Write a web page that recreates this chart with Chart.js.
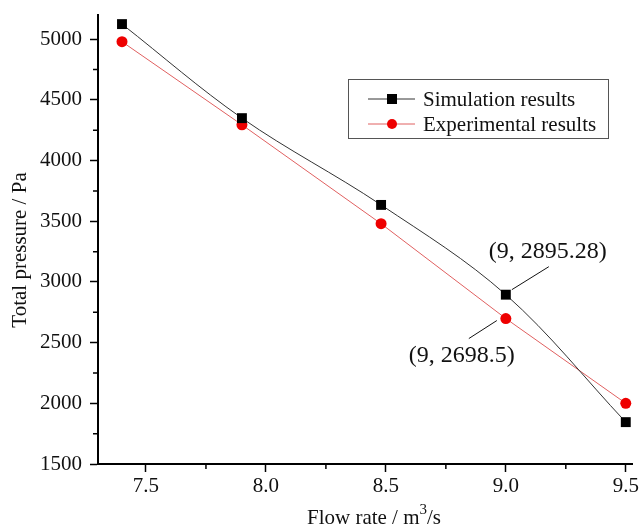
<!DOCTYPE html>
<html>
<head>
    <script src="https://cdn.jsdelivr.net/npm/chart.js@4.4.1/dist/chart.umd.min.js"></script>
    <style>
        body { margin: 0; background: #ffffff; }
        #wrap { width: 641px; height: 527px; position: relative; }
    </style>
</head>
<body>
    <div id="wrap"><canvas id="pressure"></canvas></div>
    <script>
        // values
        const flowRate = [7.4, 7.9, 8.48, 9.0, 9.5];
        const simulated = [5125, 4350, 3635, 2895.28, 1845];
        const experimental = [4980, 4295, 3480, 2698.5, 2000];
        const xTicks = [7.5, 8.0, 8.5, 9.0, 9.5];
        const yTicks = [1500, 2000, 2500, 3000, 3500, 4000, 4500, 5000];
        const callouts = [
            { ds: 0, idx: 3, text: '(9, 2895.28)' },
            { ds: 1, idx: 3, text: '(9, 2698.5)' }
        ];

        const serif = '"Liberation Serif", "DejaVu Serif", serif';

        function pts(ys) {
            return flowRate.map((x, i) => ({ x: x, y: ys[i] }));
        }

        // short minor ticks halfway between the major ones
        const minorTicks = {
            id: 'minorTicks',
            afterDraw(chart) {
                const c = chart.ctx, xs = chart.scales.x, ys = chart.scales.y;
                c.save();
                c.strokeStyle = '#000';
                c.lineWidth = 1.5;
                c.beginPath();
                for (let i = 0; i < yTicks.length - 1; i++) {
                    const py = ys.getPixelForValue((yTicks[i] + yTicks[i + 1]) / 2);
                    c.moveTo(xs.left - 5, py); c.lineTo(xs.left, py);
                }
                for (let i = 0; i < xTicks.length - 1; i++) {
                    const px = xs.getPixelForValue((xTicks[i] + xTicks[i + 1]) / 2);
                    c.moveTo(px, ys.bottom); c.lineTo(px, ys.bottom + 5);
                }
                c.stroke();
                c.restore();
            }
        };

        // axis titles (x one has a raised 3)
        const axisTitles = {
            id: 'axisTitles',
            afterDraw(chart) {
                const c = chart.ctx;
                c.save();
                c.fillStyle = '#111';
                c.font = '21px ' + serif;
                c.textBaseline = 'alphabetic';
                const a = 'Flow rate / m', b = '/s';
                const wa = c.measureText(a).width, wb = c.measureText(b).width;
                c.font = '15px ' + serif;
                const w3 = c.measureText('3').width;
                let x0 = 374 - (wa + w3 + wb) / 2;
                const base = 524;
                c.font = '21px ' + serif;
                c.fillText(a, x0, base);
                c.font = '15px ' + serif;
                c.fillText('3', x0 + wa, base - 10);
                c.font = '21px ' + serif;
                c.fillText(b, x0 + wa + w3, base);

                c.translate(20, 250);
                c.rotate(-Math.PI / 2);
                c.textAlign = 'center';
                c.textBaseline = 'middle';
                c.fillText('Total pressure / Pa', 0, 0);
                c.restore();
            }
        };

        // boxed legend inside the plot
        const boxLegend = {
            id: 'boxLegend',
            afterDraw(chart) {
                const c = chart.ctx;
                const bx = 348, by = 79, bw = 260, bh = 59;
                c.save();
                c.strokeStyle = '#555';
                c.lineWidth = 1;
                c.strokeRect(bx + 0.5, by + 0.5, bw, bh);
                c.font = '21px ' + serif;
                c.textBaseline = 'middle';
                chart.data.datasets.forEach((ds, i) => {
                    const cy = by + 20 + i * 25;
                    c.strokeStyle = ds.borderColor;
                    c.lineWidth = 1;
                    c.beginPath(); c.moveTo(368, cy); c.lineTo(415, cy); c.stroke();
                    c.fillStyle = ds.pointBackgroundColor;
                    if (ds.pointStyle === 'rect') {
                        c.fillRect(387, cy - 5, 10, 10);
                    } else {
                        c.beginPath(); c.arc(392, cy, 5, 0, Math.PI * 2); c.fill();
                    }
                    c.fillStyle = '#111';
                    c.fillText(ds.label, 423, cy + 1);
                });
                c.restore();
            }
        };

        // value callouts with leader lines
        const calloutPlugin = {
            id: 'callouts',
            afterDraw(chart) {
                const c = chart.ctx;
                c.save();
                c.font = '24px ' + serif;
                c.textAlign = 'center';
                c.textBaseline = 'middle';
                c.strokeStyle = '#111';
                c.fillStyle = '#111';
                c.lineWidth = 1;
                callouts.forEach(co => {
                    const p = chart.getDatasetMeta(co.ds).data[co.idx];
                    c.beginPath();
                    if (co.ds === 0) {
                        c.moveTo(p.x + 6, p.y - 5); c.lineTo(p.x + 43, p.y - 28);
                        c.stroke();
                        c.fillText(co.text, p.x + 42, p.y - 43);
                    } else {
                        c.moveTo(p.x - 9, p.y + 2); c.lineTo(p.x - 37, p.y + 20);
                        c.stroke();
                        c.fillText(co.text, p.x - 44, p.y + 37);
                    }
                });
                c.restore();
            }
        };

        new Chart(document.getElementById('pressure'), {
            type: 'line',
            data: {
                datasets: [{
                    label: 'Simulation results',
                    data: pts(simulated),
                    borderColor: '#333333',
                    borderWidth: 1,
                    pointStyle: 'rect',
                    pointRadius: 7,
                    pointBackgroundColor: '#000000',
                    pointBorderWidth: 0,
                    tension: 0.35
                }, {
                    label: 'Experimental results',
                    data: pts(experimental),
                    borderColor: '#e06060',
                    borderWidth: 1,
                    pointStyle: 'circle',
                    pointRadius: 5.5,
                    pointBackgroundColor: '#ee0000',
                    pointBorderWidth: 0,
                    tension: 0
                }]
            },
            options: {
                responsive: true,
                maintainAspectRatio: false,
                animation: false,
                layout: { padding: { top: 15, right: 0, left: 0, bottom: 0 } },
                plugins: { legend: { display: false }, tooltip: { enabled: false } },
                scales: {
                    x: {
                        type: 'linear',
                        min: 7.3,
                        max: 9.53,
                        afterBuildTicks: s => { s.ticks = xTicks.map(v => ({ value: v })); },
                        afterFit: s => { s.height = 63; },
                        border: { color: '#000', width: 2 },
                        grid: { drawOnChartArea: false, drawTicks: true, tickLength: 8, tickColor: '#000', tickWidth: 1.5 },
                        ticks: {
                            color: '#111',
                            font: { family: serif, size: 21 },
                            padding: 2,
                            maxRotation: 0,
                            callback: v => Number(v).toFixed(1)
                        }
                    },
                    y: {
                        type: 'linear',
                        min: 1500,
                        max: 5200,
                        afterBuildTicks: s => { s.ticks = yTicks.map(v => ({ value: v })); },
                        afterFit: s => { s.width = 98; s.paddingTop = 0; s.paddingBottom = 0; },
                        border: { color: '#000', width: 2 },
                        grid: { drawOnChartArea: false, drawTicks: true, tickLength: 8, tickColor: '#000', tickWidth: 1.5 },
                        ticks: {
                            color: '#111',
                            font: { family: serif, size: 21 },
                            padding: 8,
                            callback: v => String(v)
                        }
                    }
                }
            },
            plugins: [minorTicks, axisTitles, boxLegend, calloutPlugin]
        });
    </script>
</body>
</html>
